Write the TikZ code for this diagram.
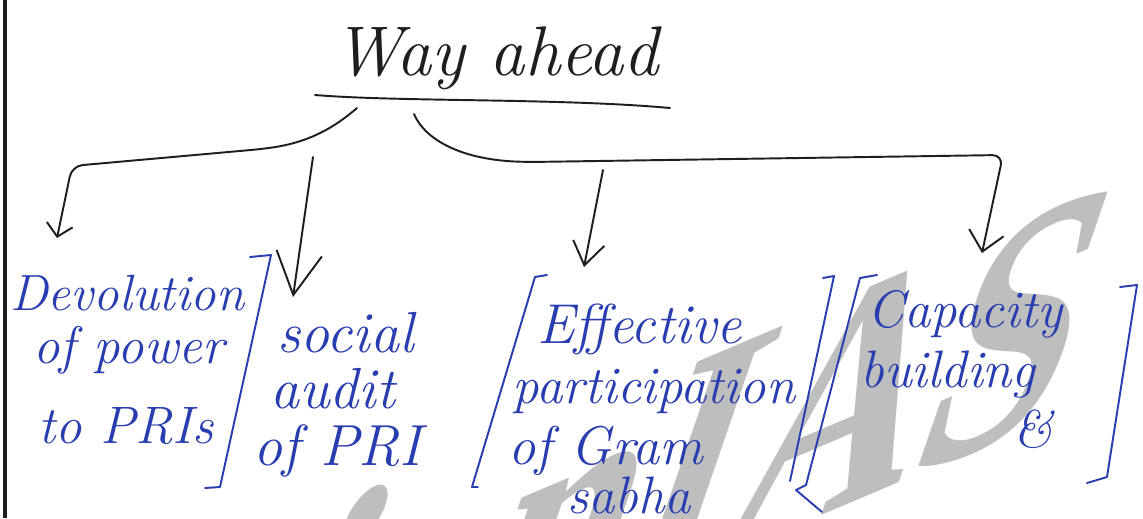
\documentclass[tikz,border=0pt]{standalone}
\usepackage{fontspec}
\newfontfamily\wmfont{Liberation Serif}
\usetikzlibrary{arrows.meta}
\definecolor{inkblue}{RGB}{40,62,176}
\definecolor{penblack}{RGB}{30,30,30}
\definecolor{wmgray}{RGB}{190,190,190}

\begin{document}
\begin{tikzpicture}[x=0.02cm, y=-0.02cm,
        pen/.style={draw=penblack, line width=1.1pt, line cap=round, line join=round},
        ink/.style={draw=inkblue, line width=1.1pt, line cap=round, line join=round},
        hand/.style={text=inkblue, anchor=base west, inner sep=0pt, font=\itshape\fontsize{#1}{#1}\selectfont},
        hand/.default=30,
        barbtip/.style 2 args={-{Straight Barb[length=#1, width=#2]}}]
        \path[use as bounding box, fill=white] (0,0) rectangle (1143,518);

        % watermark
        \begin{scope}
            \clip (0,0) rectangle (1143,518);
            \begin{scope}[shift={(-112,912)}, rotate=23, xslant=0.9]
                \node [text=wmgray, anchor=base west, inner sep=0pt, transform shape, font=\wmfont\bfseries\fontsize{165}{165}\selectfont] (wm) at (0,0) {VisionIAS};
            \end{scope}
        \end{scope}

        \draw [penblack, line width=1.8pt] (5,0) to (5,518);

        \node [hand=40, text=penblack] (way) at (333,75) {Way ahead};
        \draw [pen] (315,95) .. controls (400,102) and (560,98) .. (670,108);

        \node [hand=29] (dev) at (10,310) {Devolution};
        \node [hand] (pow) at (33,363) {of power};
        \node [hand] (prt) at (38,443) {to PRIs};
        \node [hand=33] (soc) at (277,352) {social};
        \node [hand=33] (aud) at (270,408) {audit};
        \node [hand=33] (pri) at (253,465) {of PRI};
        \node [hand=32] (eff) at (537,343) {Effective};
        \node [hand] (par) at (512,403) {participation};
        \node [hand=31] (gram) at (508,464) {of Gram};
        \node [hand=30] (sab) at (567,513) {sabha};
        \node [hand] (cap) at (867,327) {Capacity};
        \node [hand] (bui) at (860,387) {building};
        \node [hand] (amp) at (1013,447) {\&};

        \coordinate (l0) at (357,108);
        \coordinate (r0) at (414,114);
        \coordinate (a2) at (313,157);
        \coordinate (a3) at (603,170);
        \coordinate (t1) at (57,238);
        \coordinate (t2) at (293,297);
        \coordinate (t3) at (584,267);
        \coordinate (t4) at (982,253);

        \draw [pen, barbtip={7pt}{15pt}, rounded corners=6pt] (l0) .. controls (335,127) and (310,142) .. (262,149) -- (72,166) -- (t1);
        \draw [pen, barbtip={24pt}{26pt}] (a2) to (t2);
        \draw [pen, barbtip={13pt}{18pt}] (a3) to (t3);
        \draw [pen, barbtip={11pt}{20pt}, rounded corners=6pt] (r0) .. controls (425,140) and (462,160) .. (530,162) -- (1003,155) -- (t4);

        % brackets
        \draw [ink] (250,257) -- (271,255) -- (220,487) -- (205,488);
        \draw [ink] (547,275) -- (535,277) -- (472,487) -- (478,487);
        \draw [ink] (823,278) -- (834,276) -- (790,481);
        \draw [ink] (877,275) -- (860,278) -- (806,485) -- (796,490) -- (822,512);
        \draw [ink] (1120,287) -- (1137,285) -- (1107,477) -- (1087,483);
    \end{tikzpicture}
\end{document}
